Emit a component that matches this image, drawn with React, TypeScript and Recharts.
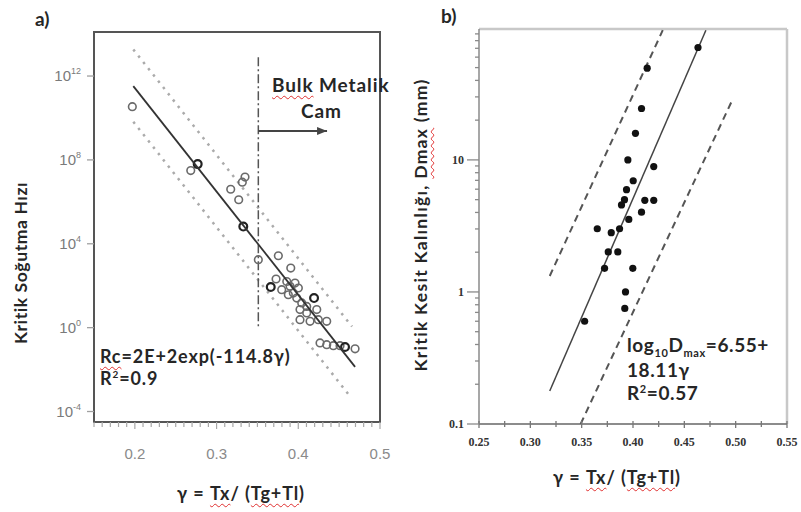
import React from 'react'
import { ScatterChart, Scatter, XAxis, YAxis, ReferenceArea, ReferenceLine } from 'recharts'

// panel a: gamma vs log10(Rc)
const aOpen = [
  { x: 0.1969, y: 10.54 }, { x: 0.2684, y: 7.49 }, { x: 0.3348, y: 7.18 }, { x: 0.3315, y: 6.94 },
  { x: 0.3173, y: 6.6 }, { x: 0.3271, y: 6.1 }, { x: 0.3756, y: 3.43 }, { x: 0.3511, y: 3.24 },
  { x: 0.3908, y: 2.84 }, { x: 0.3728, y: 2.32 }, { x: 0.3797, y: 1.81 }, { x: 0.3859, y: 2.2 },
  { x: 0.3899, y: 1.97 }, { x: 0.396, y: 2.13 }, { x: 0.4001, y: 1.89 }, { x: 0.3878, y: 1.57 },
  { x: 0.3939, y: 1.65 }, { x: 0.3981, y: 1.41 }, { x: 0.4042, y: 1.18 }, { x: 0.4021, y: 0.86 },
  { x: 0.4103, y: 1.01 }, { x: 0.4226, y: 0.86 }, { x: 0.4103, y: 0.7 }, { x: 0.4021, y: 0.38 },
  { x: 0.4144, y: 0.3 }, { x: 0.4245, y: 0.38 }, { x: 0.4348, y: 0.3 }, { x: 0.4266, y: -0.73 },
  { x: 0.4348, y: -0.81 }, { x: 0.4429, y: -0.86 }, { x: 0.4511, y: -0.86 }, { x: 0.4695, y: -1.01 },
]
const aDark = [
  { x: 0.2769, y: 7.8 }, { x: 0.3327, y: 4.82 }, { x: 0.3663, y: 1.94 },
  { x: 0.4193, y: 1.41 }, { x: 0.4572, y: -0.92 },
]
const aFit = [{ x: 0.1981, y: 11.52 }, { x: 0.4695, y: -1.87 }]
const aUpper = [{ x: 0.1981, y: 13.27 }, { x: 0.4658, y: 0.05 }]
const aLower = [{ x: 0.1981, y: 9.82 }, { x: 0.4633, y: -3.27 }]
const aCut = [{ x: 0.3511, y: 12.9 }, { x: 0.3511, y: 0 }]
const aArrow = [{ x: 0.3511, y: 9.38 }, { x: 0.4352, y: 9.38, head: true }]
const aYTicks = [-4, 0, 4, 8, 12]
const aXTicks = [
  0.15, 0.16, 0.17, 0.18, 0.19, 0.2, 0.21, 0.22, 0.23, 0.24, 0.25, 0.26, 0.27, 0.28, 0.29, 0.3,
  0.31, 0.32, 0.33, 0.34, 0.35, 0.36, 0.37, 0.38, 0.39, 0.4, 0.41, 0.42, 0.43, 0.44, 0.45, 0.46,
  0.47, 0.48, 0.49, 0.5,
]

// panel b: gamma vs Dmax (mm)
const bPoints = [
  { x: 0.4633, y: 71 }, { x: 0.4138, y: 49.5 }, { x: 0.4083, y: 24.5 }, { x: 0.4024, y: 15.9 },
  { x: 0.395, y: 10 }, { x: 0.4202, y: 8.9 }, { x: 0.4002, y: 6.95 }, { x: 0.3937, y: 5.95 },
  { x: 0.3917, y: 5.0 }, { x: 0.3888, y: 4.56 }, { x: 0.4115, y: 4.94 }, { x: 0.4202, y: 4.94 },
  { x: 0.4083, y: 4.02 }, { x: 0.3959, y: 3.54 }, { x: 0.3652, y: 3.01 }, { x: 0.3788, y: 2.81 },
  { x: 0.3869, y: 3.01 }, { x: 0.3759, y: 2.01 }, { x: 0.3852, y: 2.01 }, { x: 0.3723, y: 1.51 },
  { x: 0.3998, y: 1.51 }, { x: 0.3927, y: 1.0 }, { x: 0.392, y: 0.75 }, { x: 0.3529, y: 0.6 },
]
const bFit = [{ x: 0.3189, y: 0.178 }, { x: 0.471, y: 96 }]
const bUpper = [{ x: 0.3189, y: 1.32 }, { x: 0.429, y: 96 }]
const bLower = [{ x: 0.349, y: 0.1 }, { x: 0.4969, y: 28.6 }]
const bMajorY = [0.1, 1, 10]
const bYTicks = [
  0.1, 0.2, 0.3, 0.4, 0.5, 0.6, 0.7, 0.8, 0.9, 1, 2, 3, 4, 5, 6, 7, 8, 9, 10, 20, 30, 40, 50, 60, 70, 80, 90,
]
const bMajorX = [0.25, 0.3, 0.35, 0.4, 0.45, 0.5, 0.55]
const bXTicks = [0.25, 0.275, 0.3, 0.325, 0.35, 0.375, 0.4, 0.425, 0.45, 0.475, 0.5, 0.525, 0.55]

const bold = { fontFamily: 'Lato, sans-serif', fontWeight: 700, color: '#262626', whiteSpace: 'nowrap' as const, lineHeight: 1 }
const wavy = { textDecoration: 'underline wavy #e03030', textDecorationThickness: '1px', textUnderlineOffset: '3px' }

const none = () => <g />

// tick marks drawn here, Recharts passes the axis edge as x / y (tickSize 0, tickMargin 0)
const ExpTick = (p: any) => (
  <g>
    <line x1={p.x} x2={p.x - 7} y1={p.y} y2={p.y} stroke="#a0a0a0" strokeWidth={1.3} />
    <text x={p.x - 13} y={p.y} dy={5} textAnchor="end" fill="#7a7a7a" fontFamily="Liberation Sans, Arial" fontSize={15}>
      <tspan>10</tspan>
      <tspan fontSize={9} dy={-7}>{p.payload.value}</tspan>
    </text>
  </g>
)

const AXTick = (p: any) => {
  const v = p.payload.value
  const major = Math.abs(v * 10 - Math.round(v * 10)) < 1e-6
  return (
    <g>
      <line x1={p.x} x2={p.x} y1={p.y} y2={p.y + (major ? 7 : 5)} stroke="#a8a8a8" strokeWidth={1.2} />
      {major && (
        <text x={p.x} y={p.y + 26} dy="0.71em" textAnchor="middle" fill="#8a8a8a" fontFamily="Liberation Sans, Arial" fontSize={15}>
          {v.toFixed(1)}
        </text>
      )}
    </g>
  )
}

const BYTick = (p: any) => {
  const v = p.payload.value
  const major = bMajorY.includes(v)
  return (
    <g>
      <line x1={p.x} x2={p.x - (major ? 12 : 4)} y1={p.y} y2={p.y} stroke="#8a8a8a" strokeWidth={1.3} />
      {major && (
        <text x={p.x - 15} y={p.y} dy={4} textAnchor="end" fill="#333" fontFamily="Liberation Serif, serif" fontWeight={700} fontSize={12}>
          {v}
        </text>
      )}
    </g>
  )
}

const BXTick = (p: any) => {
  const v = p.payload.value
  const major = bMajorX.includes(v)
  return (
    <g>
      <line x1={p.x} x2={p.x} y1={p.y - 3} y2={p.y + (major ? 4 : 3)} stroke="#777" strokeWidth={1.3} />
      {major && (
        <text x={p.x} y={p.y + 13} dy="0.71em" textAnchor="middle" fill="#333" fontFamily="Liberation Serif, serif" fontWeight={700} fontSize={12}>
          {v.toFixed(2)}
        </text>
      )}
    </g>
  )
}

const openCircle = (p: any) => <circle cx={p.cx} cy={p.cy} r={3.8} fill="none" stroke="#6a6a6a" strokeWidth={1.6} />
const darkCircle = (p: any) => <circle cx={p.cx} cy={p.cy} r={3.9} fill="none" stroke="#222" strokeWidth={2.2} />
const dot = (p: any) => <circle cx={p.cx} cy={p.cy} r={3.6} fill="#111" />
const arrowHead = (p: any) =>
  p.payload && p.payload.head ? (
    <polygon points={`${p.cx},${p.cy} ${p.cx - 10},${p.cy - 4} ${p.cx - 10},${p.cy + 4}`} fill="#444" />
  ) : (
    <g />
  )

export default function App() {
  return (
    <div style={{ position: 'absolute', left: 0, top: 0, width: 801, height: 512, background: '#fff', overflow: 'hidden' }}>
      <div style={{ position: 'absolute', left: 0, top: 0 }}>
        <ScatterChart width={400} height={512} margin={{ top: 32, right: 20, bottom: 50, left: 34 }}>
          <XAxis
            type="number"
            dataKey="x"
            domain={[0.15, 0.5]}
            allowDataOverflow
            ticks={aXTicks}
            interval={0}
            axisLine={false}
            tickLine={false}
            tickSize={0}
            tickMargin={0}
            tick={AXTick}
            height={40}
          />
          <YAxis
            type="number"
            dataKey="y"
            domain={[-4.5, 14.1]}
            allowDataOverflow
            ticks={aYTicks}
            interval={0}
            axisLine={false}
            tickLine={false}
            tickSize={0}
            tickMargin={0}
            tick={ExpTick}
            width={60}
          />
          <ReferenceArea x1={0.15} x2={0.5} y1={-4.5} y2={14.1} fill="none" stroke="#555" strokeWidth={2} />
          <Scatter data={aUpper} fill="#aaa" line={{ stroke: '#ababab', strokeWidth: 2.5, strokeDasharray: '2.5 5.5' }} shape={none} isAnimationActive={false} />
          <Scatter data={aLower} fill="#aaa" line={{ stroke: '#ababab', strokeWidth: 2.5, strokeDasharray: '2.5 5.5' }} shape={none} isAnimationActive={false} />
          <Scatter data={aCut} fill="#555" line={{ stroke: '#555', strokeWidth: 1.5, strokeDasharray: '9 3 2 3' }} shape={none} isAnimationActive={false} />
          <Scatter data={aArrow} fill="#444" line={{ stroke: '#444', strokeWidth: 2 }} shape={arrowHead} isAnimationActive={false} />
          <Scatter data={aOpen} shape={openCircle} isAnimationActive={false} />
          <Scatter data={aDark} shape={darkCircle} isAnimationActive={false} />
          <Scatter data={aFit} fill="#333" line={{ stroke: '#333', strokeWidth: 1.8 }} shape={none} isAnimationActive={false} />
        </ScatterChart>
      </div>

      <div style={{ position: 'absolute', left: 400, top: 0 }}>
        <ScatterChart width={401} height={512} margin={{ top: 29, right: 14, bottom: 48, left: 29 }}>
          <XAxis
            type="number"
            dataKey="x"
            domain={[0.25, 0.55]}
            allowDataOverflow
            ticks={bXTicks}
            interval={0}
            axisLine={{ stroke: '#666', strokeWidth: 1.5 }}
            tickLine={false}
            tickSize={0}
            tickMargin={0}
            tick={BXTick}
            height={40}
          />
          <YAxis
            type="number"
            dataKey="y"
            scale="log"
            domain={[0.1, 98]}
            allowDataOverflow
            ticks={bYTicks}
            interval={0}
            axisLine={{ stroke: '#8a8a8a', strokeWidth: 1.5 }}
            tickLine={false}
            tickSize={0}
            tickMargin={0}
            tick={BYTick}
            width={50}
          />
          <ReferenceLine y={98} stroke="#c8c8c8" strokeWidth={2.5} />
          <ReferenceLine x={0.55} stroke="#c8c8c8" strokeWidth={2.5} />
          <Scatter data={bUpper} fill="#555" line={{ stroke: '#555', strokeWidth: 2, strokeDasharray: '7 5' }} shape={none} isAnimationActive={false} />
          <Scatter data={bLower} fill="#555" line={{ stroke: '#555', strokeWidth: 2, strokeDasharray: '7 5' }} shape={none} isAnimationActive={false} />
          <Scatter data={bFit} fill="#444" line={{ stroke: '#444', strokeWidth: 1.5 }} shape={none} isAnimationActive={false} />
          <Scatter data={bPoints} shape={dot} isAnimationActive={false} />
        </ScatterChart>
      </div>

      {/* labels and annotations */}
      <div style={{ ...bold, position: 'absolute', left: 35, top: 9, fontSize: 19 }}>a)</div>
      <div style={{ ...bold, position: 'absolute', left: 441, top: 6, fontSize: 19 }}>b)</div>

      <div style={{ ...bold, position: 'absolute', left: 21, top: 263, fontSize: 17.5, letterSpacing: 0.6, transform: 'translate(-50%,-50%) rotate(-90deg)' }}>
        Kritik Soğutma Hızı
      </div>
      <div style={{ ...bold, position: 'absolute', left: 421, top: 225, fontSize: 17.5, letterSpacing: 1.3, transform: 'translate(-50%,-50%) rotate(-90deg)' }}>
        Kritik Kesit Kalınlığı, <span style={wavy}>Dmax</span> (mm)
      </div>

      <div style={{ ...bold, position: 'absolute', left: 241, top: 493, fontSize: 18, letterSpacing: 0.9, transform: 'translate(-50%,-50%)' }}>
        γ = <span style={wavy}>Tx</span>/ (<span style={wavy}>Tg+Tl</span>)
      </div>
      <div style={{ ...bold, position: 'absolute', left: 617, top: 477, fontSize: 18, letterSpacing: 0.9, transform: 'translate(-50%,-50%)' }}>
        γ = <span style={wavy}>Tx</span>/ (<span style={wavy}>Tg+Tl</span>)
      </div>

      <div style={{ ...bold, position: 'absolute', left: 272, top: 75, fontSize: 19, letterSpacing: 0.9 }}>
        <span style={wavy}>Bulk</span> Metalik
      </div>
      <div style={{ ...bold, position: 'absolute', left: 301, top: 101, fontSize: 19, letterSpacing: 0.9 }}>Cam</div>

      <div style={{ ...bold, position: 'absolute', left: 100, top: 347, fontSize: 18, letterSpacing: 0.9 }}>
        <span style={wavy}>Rc</span>=2E+2exp(-114.8γ)
      </div>
      <div style={{ ...bold, position: 'absolute', left: 100, top: 369, fontSize: 18, letterSpacing: 0.9 }}>
        R<sup style={{ fontSize: 10 }}>2</sup>=0.9
      </div>

      <div style={{ ...bold, position: 'absolute', left: 627, top: 335, fontSize: 19, letterSpacing: 0.6 }}>
        log<sub style={{ fontSize: 11 }}>10</sub>D<sub style={{ fontSize: 11 }}>max</sub>=6.55+
      </div>
      <div style={{ ...bold, position: 'absolute', left: 627, top: 360, fontSize: 19, letterSpacing: 0.6 }}>18.11γ</div>
      <div style={{ ...bold, position: 'absolute', left: 627, top: 383, fontSize: 19, letterSpacing: 0.6 }}>
        R<sup style={{ fontSize: 11 }}>2</sup>=0.57
      </div>
    </div>
  )
}
